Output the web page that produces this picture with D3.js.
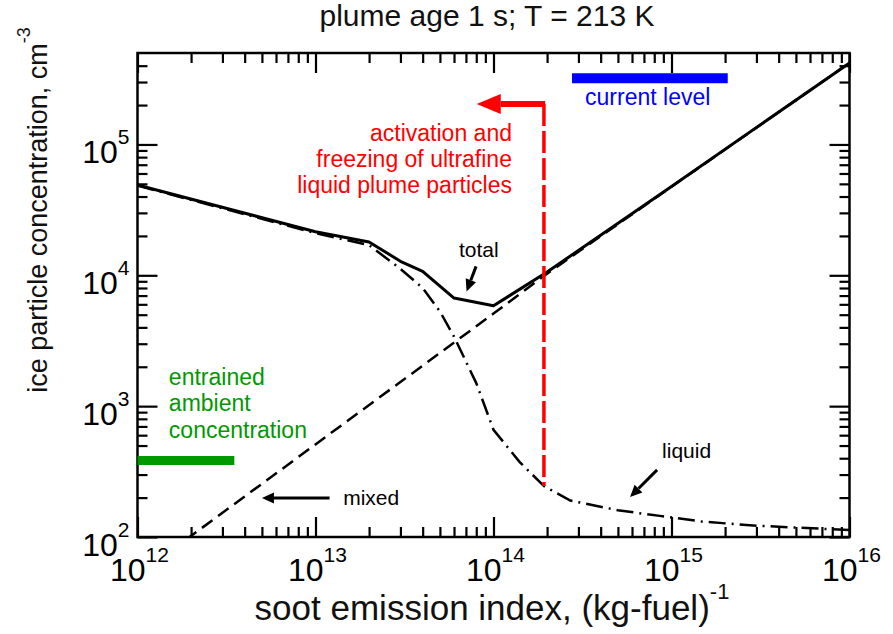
<!DOCTYPE html>
<html>
<head>
<meta charset="utf-8">
<script src="https://cdn.jsdelivr.net/npm/d3@7"></script>
<style>
  body { margin: 0; background: #fff; }
  svg { display: block; }
</style>
</head>
<body>
<svg id="chart" width="893" height="634"></svg>
<script>
// Ice particle concentration (cm^-3) versus soot emission index ((kg-fuel)^-1)
const totalEI    = [1e12, 1e13, 2e13, 3e13, 4e13, 6e13, 1e14, 2e14, 1e15, 1e16];
const totalConc  = [4.9e4, 2.15e4, 1.8e4, 1.28e4, 1.07e4, 6.7e3, 5.85e3, 1.06e4, 4.77e4, 4.2e5];

const liquidEI   = [1e12, 1e13, 2e13, 3e13, 4e13, 5e13, 6e13, 8e13, 1e14, 1.4e14, 1.92e14, 2.7e14, 5e14, 8.6e14, 1.5e15, 3e15, 1e16];
const liquidConc = [4.85e4, 2.1e4, 1.7e4, 1.12e4, 8.0e3, 5.3e3, 3.4e3, 1.5e3, 660, 375, 245, 190, 160, 145, 131, 122, 113];

const mixedEI    = [1e12, 1e14, 2e14, 1e15, 1e16];
const mixedConc  = [51, 5.1e3, 1.03e4, 4.75e4, 4.2e5];

// Tick labels (decades)
const xDecades = [1e12, 1e13, 1e14, 1e15, 1e16];
const yDecades = [1e2, 1e3, 1e4, 1e5];

// Reference levels
const ambientEI    = [1e12, 3.5e12];  const ambientConc = 385;
const currentEI    = [2.76e14, 2.07e15]; const currentConc = 3.2e5;
// Activation threshold: vertical from the liquid curve up, then arrow toward lower EI
const activationEI = 1.92e14, activationTop = 2.04e5, activationTipEI = 8.05e13;

const FONT = "'Liberation Sans', Arial, Helvetica, sans-serif";
const svg = d3.select("#chart");

const x = d3.scaleLog().domain([1e12, 1e16]).range([137.5, 849.5]);
const y = d3.scaleLog().domain([1e2, 5e5]).range([537, 53]);
const [x0, x1] = x.range(), [y0, y1] = y.range();

svg.append("clipPath").attr("id", "plot")
  .append("rect").attr("x", x0).attr("y", y1).attr("width", x1 - x0).attr("height", y0 - y1);

// ---- axes: inward ticks on all four sides ----
const expand = (lo, hi, dom) => d3.range(lo, hi).flatMap(e => d3.range(2, 10).map(m => m * 10 ** e))
  .filter(v => v > dom[0] && v < dom[1]);
const xMinor = expand(12, 16, x.domain());
const yMinor = expand(2, 6, y.domain());

function ticks(axis, tr) {
  const g = svg.append("g").attr("transform", tr).call(axis);
  g.select(".domain").remove();
  g.selectAll("text").remove();
  g.selectAll("line").attr("stroke", "#000").attr("stroke-width", 2.2);
}
ticks(d3.axisBottom(x).tickValues(xDecades).tickSize(-20), `translate(0,${y0})`);
ticks(d3.axisBottom(x).tickValues(xMinor).tickSize(-10), `translate(0,${y0})`);
ticks(d3.axisTop(x).tickValues(xDecades).tickSize(-20), `translate(0,${y1})`);
ticks(d3.axisTop(x).tickValues(xMinor).tickSize(-10), `translate(0,${y1})`);
ticks(d3.axisLeft(y).tickValues(yDecades).tickSize(-20), `translate(${x0},0)`);
ticks(d3.axisLeft(y).tickValues(yMinor).tickSize(-10), `translate(${x0},0)`);
ticks(d3.axisRight(y).tickValues(yDecades).tickSize(-20), `translate(${x1},0)`);
ticks(d3.axisRight(y).tickValues(yMinor).tickSize(-10), `translate(${x1},0)`);

svg.append("rect").attr("x", x0).attr("y", y1).attr("width", x1 - x0).attr("height", y0 - y1)
  .attr("fill", "none").attr("stroke", "#000").attr("stroke-width", 2.5);

// power-of-ten labels
function powerLabel(sel, exp) {
  sel.append("tspan").attr("font-size", 32).text("10");
  sel.append("tspan").attr("font-size", 21).attr("dy", -19).text(exp);
}
xDecades.forEach(v => {
  svg.append("text").attr("x", x(v) + 2).attr("y", y0 + 44)
    .attr("text-anchor", "middle").attr("font-family", FONT).attr("fill", "#000")
    .call(powerLabel, Math.round(Math.log10(v)));
});
yDecades.forEach(v => {
  svg.append("text").attr("x", x0 - 8).attr("y", y(v) + 19)
    .attr("text-anchor", "end").attr("font-family", FONT).attr("fill", "#000")
    .call(powerLabel, Math.round(Math.log10(v)));
});

// axis titles and chart title
svg.append("text").attr("x", 487).attr("y", 26).attr("text-anchor", "middle")
  .attr("font-family", FONT).attr("font-size", 30).attr("fill", "#111")
  .text("plume age 1 s; T = 213 K");

const xt = svg.append("text").attr("x", 492).attr("y", 620).attr("text-anchor", "middle")
  .attr("font-family", FONT).attr("fill", "#111");
xt.append("tspan").attr("font-size", 35).text("soot emission index, (kg-fuel)");
xt.append("tspan").attr("font-size", 22).attr("dy", -21).text("-1");

const yt = svg.append("text").attr("transform", "translate(47,210) rotate(-90)")
  .attr("text-anchor", "middle").attr("font-family", FONT).attr("fill", "#111");
yt.append("tspan").attr("font-size", 27).text("ice particle concentration, cm");
yt.append("tspan").attr("font-size", 18).attr("dy", -17).text("-3");

// ---- data curves ----
const line = d3.line().x(d => x(d[0])).y(d => y(d[1]));
const plot = svg.append("g").attr("clip-path", "url(#plot)");

plot.append("path").datum(d3.zip(mixedEI, mixedConc)).attr("d", line)
  .attr("fill", "none").attr("stroke", "#000").attr("stroke-width", 2.5)
  .attr("stroke-dasharray", "13,7");
plot.append("path").datum(d3.zip(liquidEI, liquidConc)).attr("d", line)
  .attr("fill", "none").attr("stroke", "#000").attr("stroke-width", 2.5)
  .attr("stroke-dasharray", "17,6,2,6");
plot.append("path").datum(d3.zip(totalEI, totalConc)).attr("d", line)
  .attr("fill", "none").attr("stroke", "#000").attr("stroke-width", 3)
  .attr("stroke-linejoin", "round");

// ---- reference levels ----
svg.append("line").attr("x1", x(ambientEI[0])).attr("x2", x(ambientEI[1]))
  .attr("y1", y(ambientConc)).attr("y2", y(ambientConc))
  .attr("stroke", "#009900").attr("stroke-width", 9);
svg.append("line").attr("x1", x(currentEI[0])).attr("x2", x(currentEI[1]))
  .attr("y1", y(currentConc)).attr("y2", y(currentConc))
  .attr("stroke", "#0000ff").attr("stroke-width", 10);

// arrow helper: shaft from tail to the base of a filled head at tip
function arrow(tail, tip, color, width, headLen, headW) {
  const [ax, ay] = [x(tail[0]), y(tail[1])], [bx, by] = [x(tip[0]), y(tip[1])];
  const len = Math.hypot(bx - ax, by - ay), ux = (bx - ax) / len, uy = (by - ay) / len;
  const cx = bx - ux * headLen, cy = by - uy * headLen;
  svg.append("line").attr("x1", ax).attr("y1", ay).attr("x2", cx).attr("y2", cy)
    .attr("stroke", color).attr("stroke-width", width);
  svg.append("path").attr("fill", color)
    .attr("d", `M${bx},${by}L${cx - uy * headW / 2},${cy + ux * headW / 2}L${cx + uy * headW / 2},${cy - ux * headW / 2}Z`);
}

// activation threshold
const liquidAt = d3.scaleLog().domain(liquidEI).range(liquidConc);
svg.append("line").attr("x1", x(activationEI)).attr("x2", x(activationEI))
  .attr("y1", y(activationTop)).attr("y2", y(liquidAt(activationEI)))
  .attr("stroke", "#ff0000").attr("stroke-width", 3.5).attr("stroke-dasharray", "22,5");
arrow([activationEI + 0.03e14, activationTop], [activationTipEI, activationTop], "#ff0000", 6, 24, 20);

// ---- annotations ----
function label(lines, ei, conc, color, anchor, size, step) {
  const t = svg.append("text").attr("font-family", FONT).attr("font-size", size)
    .attr("fill", color).attr("text-anchor", anchor);
  lines.forEach((s, i) => t.append("tspan").attr("x", x(ei)).attr("y", y(conc) + i * step).text(s));
}
label(["current level"], 3.27e14, 2.02e5, "#0000ff", "start", 23, 0);
label(["activation and", "freezing of ultrafine", "liquid plume particles"], 1.27e14, 1.06e5, "#ff0000", "end", 23, 25.8);
label(["entrained", "ambient", "concentration"], 1.5e12, 1.46e3, "#009900", "start", 23, 26.5);
label(["total"], 6.4e13, 1.39e4, "#000", "start", 21, 0);
label(["liquid"], 8.85e14, 402, "#000", "start", 21, 0);
label(["mixed"], 1.43e13, 176, "#000", "start", 21, 0);

arrow([7.98e13, 1.17e4], [7.06e13, 7.53e3], "#000", 3, 12, 11);
arrow([8.3e14, 326], [5.85e14, 202], "#000", 3, 12, 11);
arrow([1.2e13, 199], [5.0e12, 199], "#000", 3, 12, 11);
</script>
</body>
</html>
